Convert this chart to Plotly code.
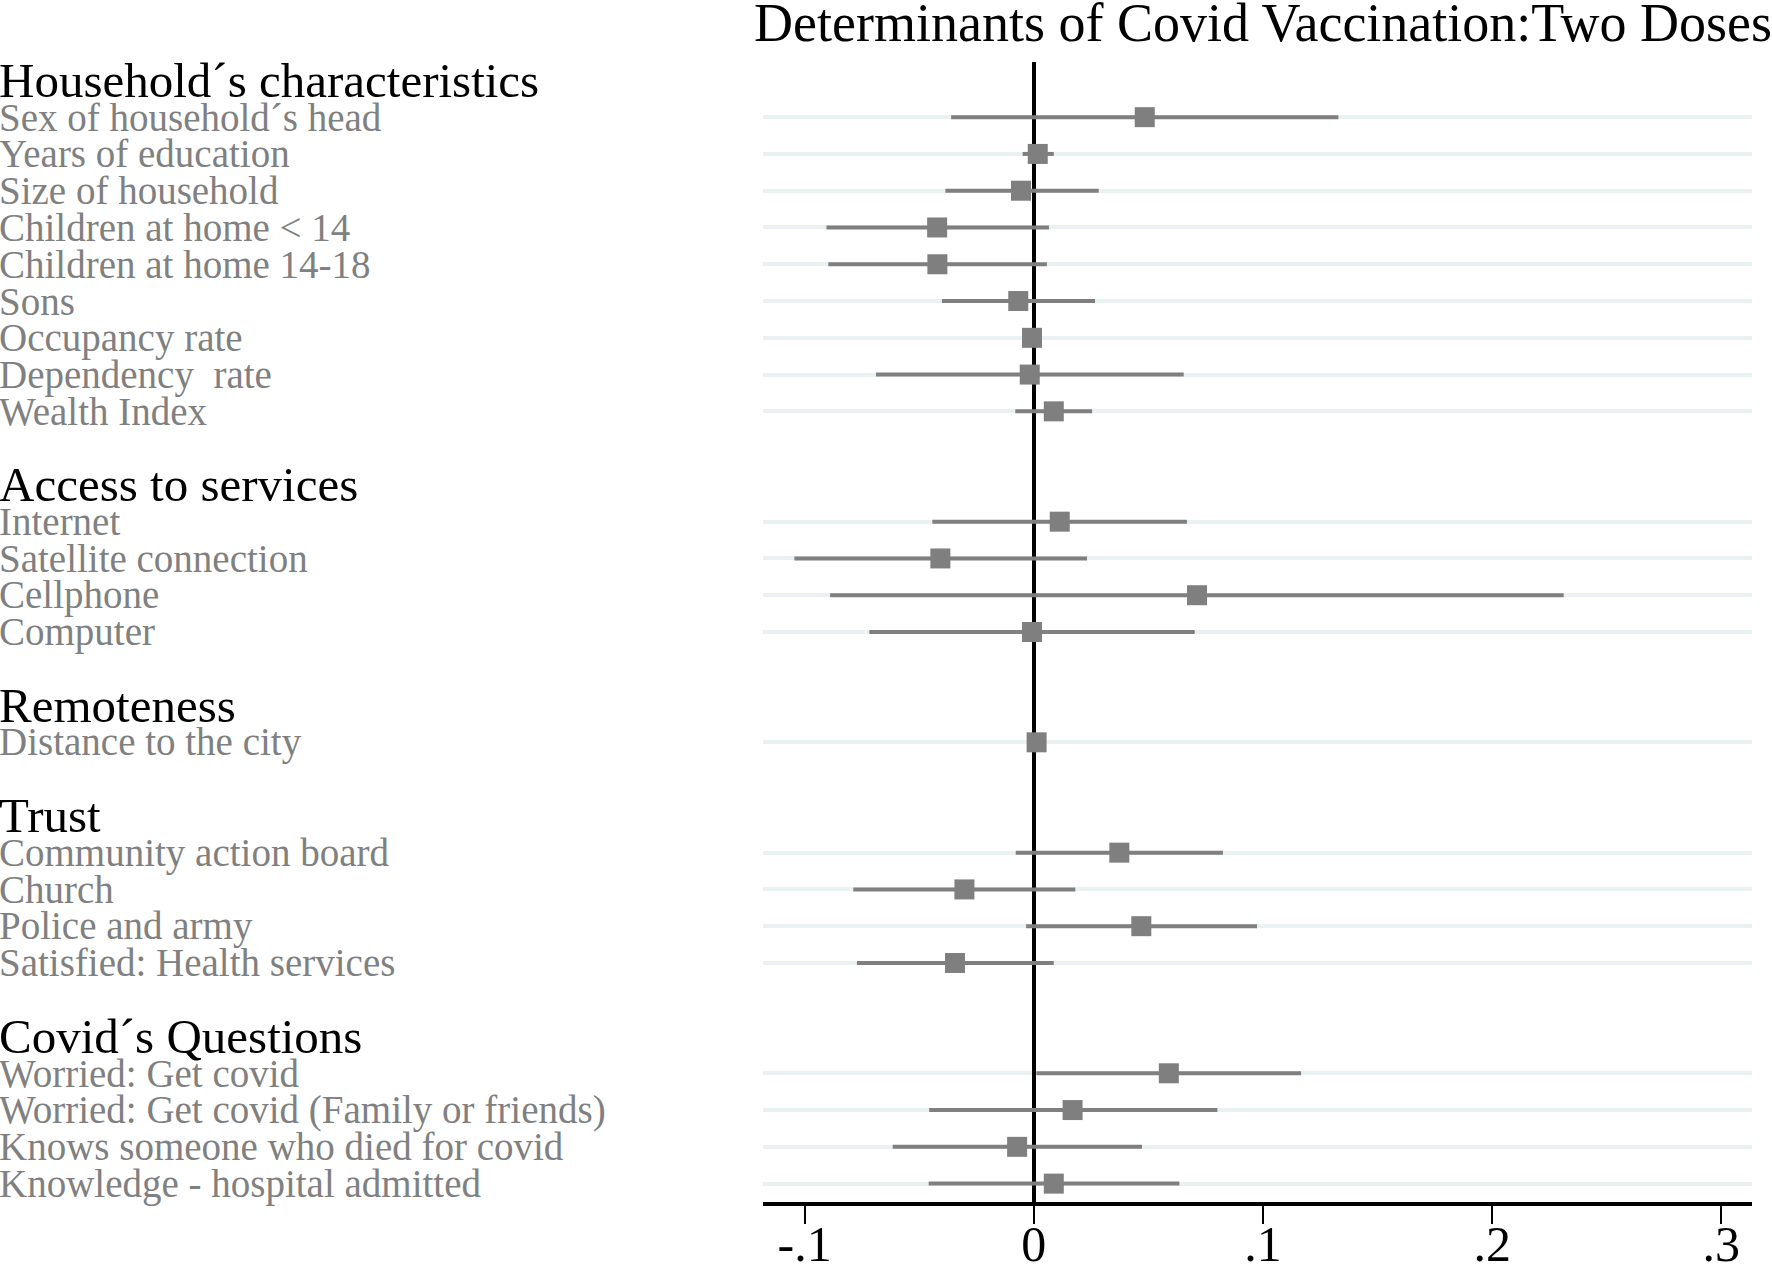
import plotly.graph_objects as go

# ---------------- data ----------------
group_names = ["Household´s characteristics", "Access to services", "Remoteness",
               "Trust", "Covid´s Questions"]
group_sizes = [9, 4, 1, 4, 4]

labels = [
    "Sex of household´s head", "Years of education", "Size of household",
    "Children at home < 14", "Children at home 14-18", "Sons", "Occupancy rate",
    "Dependency\u00a0 rate", "Wealth Index",
    "Internet", "Satellite connection", "Cellphone", "Computer",
    "Distance to the city",
    "Community action board", "Church", "Police and army", "Satisfied: Health services",
    "Worried: Get covid", "Worried: Get covid (Family or friends)",
    "Knows someone who died for covid", "Knowledge - hospital admitted",
]
estimates = [0.0484, 0.0017, -0.0056, -0.0422, -0.0421, -0.0068, -0.0008, -0.0018, 0.0087,
             0.0113, -0.0408, 0.0712, -0.0008,
             0.0012,
             0.0373, -0.0303, 0.0469, -0.0344,
             0.0589, 0.0169, -0.0073, 0.0087]
ci_low = [-0.0361, -0.0049, -0.0386, -0.0905, -0.0897, -0.0401, -0.0025, -0.0689, -0.0081,
          -0.0443, -0.1045, -0.0889, -0.0718,
          0.0004,
          -0.0079, -0.0788, -0.0034, -0.0772,
          0.0011, -0.0457, -0.0616, -0.0459]
ci_high = [0.1329, 0.0087, 0.0283, 0.0066, 0.0057, 0.0267, 0.0010, 0.0654, 0.0254,
           0.0668, 0.0232, 0.2312, 0.0702,
           0.0020,
           0.0825, 0.0181, 0.0974, 0.0087,
           0.1166, 0.0801, 0.0472, 0.0635]

x_tickvals = [-0.1, 0, 0.1, 0.2, 0.3]
x_ticktext = ["-.1", "0", ".1", ".2", ".3"]
title_text = "Determinants of Covid Vaccination:Two Doses"

# ---------------- layout of rows ----------------
header_slots = []
row_slots = []
s = 0
for n in group_sizes:
    header_slots.append(s)
    row_slots.extend(range(s + 1, s + 1 + n))
    s += n + 2

FONT = "Liberation Serif, Times New Roman, serif"
GRAY = "#7f7f7f"
LEFT = 763

fig = go.Figure()
fig.add_trace(go.Scatter(
    x=estimates, y=row_slots, mode="markers",
    marker=dict(symbol="square", size=20, color=GRAY, line=dict(width=0)),
    error_x=dict(type="data", symmetric=False,
                 array=[h - e for h, e in zip(ci_high, estimates)],
                 arrayminus=[e - l for e, l in zip(estimates, ci_low)],
                 thickness=4, width=0, color=GRAY),
    showlegend=False, hoverinfo="skip",
))

annotations = []
for name, slot in zip(group_names, header_slots):
    annotations.append(dict(text=name, xref="paper", x=0, xshift=-LEFT - 2, xanchor="left",
                            yref="y", y=slot, yanchor="middle", showarrow=False,
                            borderpad=0,
                            font=dict(family=FONT, size=49, color="black")))
for lab, slot in zip(labels, row_slots):
    annotations.append(dict(text=lab, xref="paper", x=0, xshift=-LEFT - 2, xanchor="left",
                            yref="y", y=slot, yanchor="middle", showarrow=False,
                            borderpad=0,
                            font=dict(family=FONT, size=39, color="#808080")))

fig.update_layout(
    width=1772, height=1266,
    margin=dict(l=LEFT, r=20, t=62, b=64, autoexpand=False),
    paper_bgcolor="white", plot_bgcolor="white",
    title=dict(text=title_text, x=0.5056, xref="paper", xanchor="center",
               y=1 - 22 / 1266, yref="container", yanchor="middle",
               font=dict(family=FONT, size=54, color="black")),
    xaxis=dict(range=[-0.1182, 0.3134], tickvals=x_tickvals, ticktext=x_ticktext,
               automargin=False,
               showgrid=False, zeroline=True, zerolinecolor="black", zerolinewidth=4,
               showline=True, linecolor="black", linewidth=4,
               ticks="outside", ticklen=18, tickwidth=2, tickcolor="black",
               ticklabelstandoff=-23,
               tickfont=dict(family=FONT, size=50, color="black")),
    yaxis=dict(range=[30.5, -0.5], tickvals=row_slots, showticklabels=False,
               automargin=False,
               showgrid=True, gridcolor="#EAF1F2", gridwidth=4, zeroline=False,
               showline=False, ticks=""),
    annotations=annotations,
)

fig.write_html("out.html",
               config={"displayModeBar": False},
               post_script="document.body.style.margin='0px';"
                           "document.documentElement.style.margin='0px';")
